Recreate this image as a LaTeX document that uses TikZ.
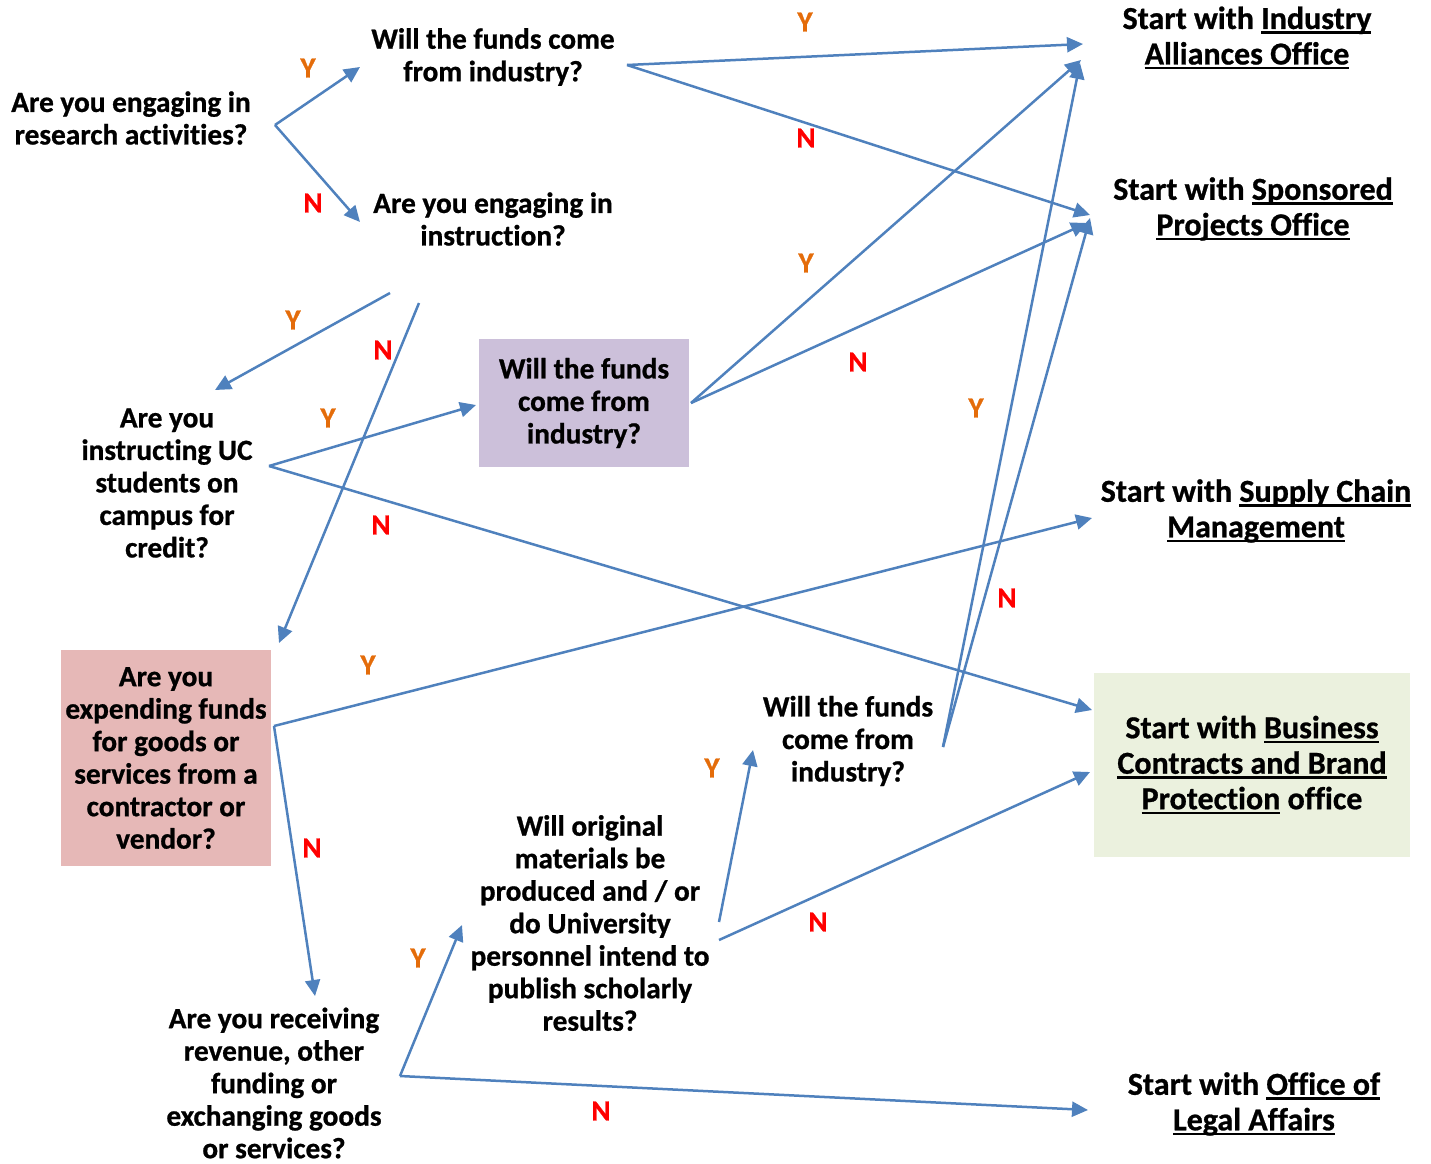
\documentclass[tikz,border=0pt]{standalone}
\usepackage{fontspec}
\setmainfont{Carlito}[BoldFont={Carlito Bold},Ligatures={NoCommon},BoldFeatures={FakeBold=0.8}]
\usetikzlibrary{arrows.meta}
\definecolor{arrowblue}{RGB}{79,129,189}
\definecolor{yorange}{RGB}{228,108,10}
\definecolor{nred}{RGB}{255,0,0}
\definecolor{purplebox}{RGB}{204,192,218}
\definecolor{redbox}{RGB}{230,184,183}
\definecolor{greenbox}{RGB}{235,241,222}
\newcommand\myul[1]{\setbox0\hbox{#1}\rlap{\rule[-5pt]{\wd0}{2.6pt}}\box0{}}
\begin{document}
\begin{tikzpicture}[x=1pt,y=-1pt,
  txt/.style={align=center,font=\fontsize{29.3}{32.5}\selectfont\bfseries,inner sep=0pt},
  outc/.style={align=center,font=\fontsize{32}{35.5}\selectfont\bfseries,inner sep=0pt},
  boxq/.style={txt,minimum width=210pt},
  yl/.style={font=\fontsize{29}{30}\selectfont\bfseries,text=yorange,inner sep=0pt},
  nl/.style={font=\fontsize{29}{30}\selectfont\bfseries,text=nred,inner sep=0pt},
  conn/.style={draw=arrowblue,line width=2.5pt,-{Triangle[length=16pt,width=15pt]}}]
\useasboundingbox (0,0) rectangle (1431,1163);
% question nodes
\node[txt] (research) at (131,118) {Are you engaging in\\research activities?};
\node[txt] (indA) at (493,57) {Will the funds come\\from industry?};
\node[txt] (instr) at (493,219) {Are you engaging in\\instruction?};
\node[txt] (uc) at (167,483) {Are you\\instructing UC\\students on\\campus for\\credit?};
\node[boxq,fill=purplebox,minimum height=128pt] (indB) at (584,403) {Will the funds\\come from\\industry?};
\node[boxq,fill=redbox,minimum height=216pt] (expend) at (166,758) {Are you\\expending funds\\for goods or\\services from a\\contractor or\\vendor?};
\node[txt] (revenue) at (274,1083) {Are you receiving\\revenue, other\\funding or\\exchanging goods\\or services?};
\node[txt] (materials) at (590,923) {Will original\\materials be\\produced and / or\\do University\\personnel intend to\\publish scholarly\\results?};
\node[txt] (indC) at (848,741) {Will the funds\\come from\\industry?};
% outcome nodes
\node[outc] (iao) at (1247,38) {Start with \myul{Industry}\\\myul{Alliances Office}};
\node[outc] (spo) at (1253,209) {Start with \myul{Sponsored}\\\myul{Projects Office}};
\node[outc] (scm) at (1256,511) {Start with \myul{Supply Chain}\\\myul{Management}};
\node[outc,fill=greenbox,minimum width=316pt,minimum height=184pt] (bcbp) at (1252,765) {Start with \myul{Business}\\\myul{Contracts and Brand}\\\myul{Protection} office};
\node[outc] (legal) at (1254,1104) {Start with \myul{Office of}\\\myul{Legal Affairs}};
% connector end points
\coordinate (researchOut) at (275,125);
\coordinate (indAin) at (360,67);
\coordinate (instrIn) at (360,222);
\coordinate (indAout) at (627,65);
\coordinate (iaoA) at (1083,44);
\coordinate (spoA) at (1090,215);
\coordinate (instrY) at (390,293);
\coordinate (instrN) at (419,303);
\coordinate (ucIn) at (215,390);
\coordinate (expIn) at (279,643);
\coordinate (ucOut) at (269,466);
\coordinate (indBin) at (476,405);
\coordinate (bcbpA) at (1092,710);
\coordinate (indBout) at (691,403);
\coordinate (iaoB) at (1081,60);
\coordinate (spoB) at (1087,223);
\coordinate (expOut) at (274,726);
\coordinate (scmA) at (1092,518);
\coordinate (revIn) at (315,996);
\coordinate (revOut) at (400,1076);
\coordinate (matIn) at (462,925);
\coordinate (legalA) at (1088,1110);
\coordinate (matY) at (719,922);
\coordinate (matN) at (719,940);
\coordinate (indCin) at (753,750);
\coordinate (bcbpB) at (1090,772);
\coordinate (indCout) at (943,747);
\coordinate (iaoC) at (1080,63);
\coordinate (spoC) at (1090,218);
% connectors
\draw[conn] (researchOut) -- (indAin);
\draw[conn] (researchOut) -- (instrIn);
\draw[conn] (indAout) -- (iaoA);
\draw[conn] (indAout) -- (spoA);
\draw[conn] (instrY) -- (ucIn);
\draw[conn] (instrN) -- (expIn);
\draw[conn] (ucOut) -- (indBin);
\draw[conn] (ucOut) -- (bcbpA);
\draw[conn] (indBout) -- (iaoB);
\draw[conn] (indBout) -- (spoB);
\draw[conn] (expOut) -- (scmA);
\draw[conn] (expOut) -- (revIn);
\draw[conn] (revOut) -- (matIn);
\draw[conn] (revOut) -- (legalA);
\draw[conn] (matY) -- (indCin);
\draw[conn] (matN) -- (bcbpB);
\draw[conn] (indCout) -- (iaoC);
\draw[conn] (indCout) -- (spoC);
% labels
\node[yl] (y1) at (308,68) {Y};
\node[nl] (n1) at (313,203) {N};
\node[yl] (y2) at (805,22) {Y};
\node[nl] (n2) at (806,138) {N};
\node[yl] (y3) at (293,320) {Y};
\node[nl] (n3) at (383,350) {N};
\node[yl] (y4) at (328,418) {Y};
\node[nl] (n4) at (381,525) {N};
\node[yl] (y5) at (806,263) {Y};
\node[nl] (n5) at (858,362) {N};
\node[yl] (y6) at (368,665) {Y};
\node[nl] (n6) at (312,848) {N};
\node[yl] (y7) at (418,958) {Y};
\node[nl] (n7) at (601,1111) {N};
\node[yl] (y8) at (712,768) {Y};
\node[nl] (n8) at (818,922) {N};
\node[yl] (y9) at (976,408) {Y};
\node[nl] (n9) at (1007,598) {N};
\end{tikzpicture}
\end{document}
